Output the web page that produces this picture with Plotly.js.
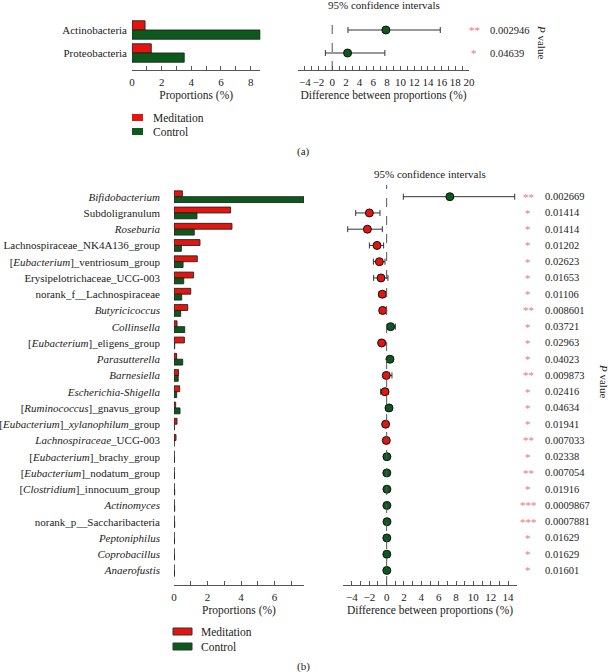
<!DOCTYPE html>
<html><head><meta charset="utf-8">
<script src="https://cdn.plot.ly/plotly-3.0.1.min.js"></script>
<style>html,body{margin:0;padding:0;background:#fff}#chart{width:610px;height:672px}</style>
</head><body><div id="chart"></div>
<script>
// ---------- Panel (a): phylum level ----------
const phylaLabels = ['Actinobacteria', 'Proteobacteria'];
const phylaMeditation = [0.88, 1.30];
const phylaControl = [8.65, 3.52];
const phylaDiff = [7.85, 2.25];
const phylaCILow = [2.3, -1.0];
const phylaCIHigh = [15.8, 7.7];
const phylaP = ['0.002946', '0.04639'];
const phylaStars = ['**', '*'];

// ---------- Panel (b): genus level ----------
const genusLabels = [
  '<i>Bifidobacterium</i>',
  'Subdoligranulum',
  '<i>Roseburia</i>',
  'Lachnospiraceae_NK4A136_group',
  '[<i>Eubacterium</i>]_ventriosum_group',
  'Erysipelotrichaceae_UCG-003',
  'norank_f__Lachnospiraceae',
  '<i>Butyricicoccus</i>',
  '<i>Collinsella</i>',
  '[<i>Eubacterium</i>]_eligens_group',
  '<i>Parasutterella</i>',
  '<i>Barnesiella</i>',
  '<i>Escherichia-Shigella</i>',
  '[<i>Ruminococcus</i>]_gnavus_group',
  '[<i>Eubacterium</i>]_<i>xylanophilum</i>_group',
  '<i>Lachnospiraceae</i>_UCG-003',
  '[<i>Eubacterium</i>]_brachy_group',
  '[<i>Eubacterium</i>]_nodatum_group',
  '[<i>Clostridium</i>]_innocuum_group',
  '<i>Actinomyces</i>',
  'norank_p__Saccharibacteria',
  '<i>Peptoniphilus</i>',
  '<i>Coprobacillus</i>',
  '<i>Anaerofustis</i>'
];
const genusMeditation = [0.50, 3.38, 3.46, 1.55, 1.39, 1.17, 1.00, 0.82, 0.18, 0.62, 0.16, 0.27, 0.34, 0.10, 0.18, 0.12, 0.01, 0.005, 0.01, 0.01, 0.01, 0.005, 0.005, 0.005];
const genusControl = [7.76, 1.37, 1.21, 0.44, 0.54, 0.58, 0.46, 0.40, 0.64, 0.04, 0.52, 0.25, 0.16, 0.36, 0.02, 0.01, 0.03, 0.03, 0.04, 0.04, 0.04, 0.03, 0.03, 0.03];
const genusDiff = [7.29, -1.99, -2.22, -1.11, -0.84, -0.65, -0.50, -0.46, 0.46, -0.58, 0.38, -0.04, -0.19, 0.27, -0.12, -0.04, 0.03, 0.02, 0.03, 0.03, 0.04, 0.02, 0.02, 0.02];
const genusCILow = [1.92, -3.57, -4.49, -1.99, -1.53, -1.50, -0.88, -0.77, 0.08, -0.92, 0.15, -0.38, -0.69, -0.08, -0.38, -0.30, 0.00, 0.00, 0.00, 0.00, 0.01, 0.00, 0.00, 0.00];
const genusCIHigh = [14.77, -0.77, -0.50, -0.35, -0.19, 0.15, -0.15, -0.19, 1.00, -0.19, 0.73, 0.61, 0.19, 0.61, 0.15, 0.20, 0.06, 0.05, 0.06, 0.06, 0.07, 0.05, 0.05, 0.05];
const genusP = ['0.002669','0.01414','0.01414','0.01202','0.02623','0.01653','0.01106','0.008601','0.03721','0.02963','0.04023','0.009873','0.02416','0.04634','0.01941','0.007033','0.02338','0.007054','0.01916','0.0009867','0.0007881','0.01629','0.01629','0.01601'];
const genusStars = ['**','*','*','*','*','*','*','**','*','*','*','**','*','*','*','**','*','**','*','***','***','*','*','*'];

const groupNames = ['Meditation', 'Control'];

// ---------- styling ----------
const W = 610, H = 672;
const px = x => x / W;
const py = y => 1 - y / H;
const RED = '#e5140f', GREEN = '#0b5a1c', STAR = '#f07272', AX = '#555';
const FONT = 'Liberation Serif, Times New Roman, serif';

const idx = arr => arr.map((_, i) => i);

function barTraces(vals1, vals2, xa, ya, w) {
  return [
    {type: 'bar', orientation: 'h', name: groupNames[0], y: idx(vals1), x: vals1, xaxis: xa, yaxis: ya,
     offset: -w, width: w, marker: {color: RED, line: {color: '#222', width: 0.9}}, showlegend: false, hoverinfo: 'x'},
    {type: 'bar', orientation: 'h', name: groupNames[1], y: idx(vals2), x: vals2, xaxis: xa, yaxis: ya,
     offset: 0, width: w, marker: {color: GREEN, line: {color: '#222', width: 0.9}}, showlegend: false, hoverinfo: 'x'}
  ];
}
function ciTrace(diff, lo, hi, xa, ya, size) {
  return {type: 'scatter', mode: 'markers', x: diff, y: idx(diff), xaxis: xa, yaxis: ya, showlegend: false,
    marker: {size: size, color: diff.map(d => d > 0 ? GREEN : RED), line: {color: '#111', width: 1}},
    error_x: {type: 'data', symmetric: false, array: hi.map((h, i) => h - diff[i]), arrayminus: diff.map((d, i) => d - lo[i]),
      color: '#333', thickness: 1, width: 3}};
}

const data = [
  ...barTraces(phylaMeditation, phylaControl, 'x', 'y', 0.4),
  ciTrace(phylaDiff, phylaCILow, phylaCIHigh, 'x2', 'y2', 8),
  ...barTraces(genusMeditation, genusControl, 'x3', 'y3', 0.36),
  ciTrace(genusDiff, genusCILow, genusCIHigh, 'x4', 'y4', 8)
];

function xAxis(d0, d1, range, anchor, title) {
  return {domain: [px(d0), px(d1)], range: range, anchor: anchor, showline: true, linecolor: AX, linewidth: 1,
    ticks: 'inside', ticklen: 4, tickcolor: AX, tickwidth: 1, dtick: 2, tick0: 0, tickangle: 0,
    minor: {dtick: 1, ticks: 'inside', ticklen: 4, tickcolor: AX, tickwidth: 1, showgrid: false},
    showgrid: false, zeroline: false, tickfont: {family: FONT, size: 11, color: '#222'}, ticklabelstandoff: 2,
    title: {text: title, font: {family: FONT, size: 11.5, color: '#222'}, standoff: 3}, fixedrange: true};
}
function yAxis(t0, t1, range, anchor, labels, standoff, fs) {
  return {domain: [py(t1), py(t0)], range: range, anchor: anchor, showline: false, ticks: '',
    tickvals: labels ? idx(labels) : [], ticktext: labels || [], showticklabels: !!labels,
    showgrid: false, zeroline: false, tickfont: {family: FONT, size: fs, color: '#222'}, ticklabelstandoff: standoff, fixedrange: true};
}

// row geometry
const aTop = 15, aBot = 70, aRow0 = 30, aStep = 23;
const bTop = 185, bBot = 585, bRow0 = 196.7, bStep = 16.25;
const aRange = [(aBot - aRow0) / aStep, (aTop - aRow0) / aStep];
const bRange = [(bBot - bRow0) / bStep, (bTop - bRow0) / bStep];

const annotations = [];
const txt = (text, x, y, opts) => annotations.push(Object.assign({text: text, x: x, y: y, xref: 'paper', yref: 'paper',
  showarrow: false, font: {family: FONT, size: 11, color: '#222'}, xanchor: 'center', yanchor: 'middle'}, opts || {}));

txt('95% confidence intervals', px(384), py(5));
txt('95% confidence intervals', px(430), py(174));
txt('<i>P</i> value', px(542), py(42), {textangle: 90});
txt('<i>P</i> value', px(604), py(381), {textangle: 90});
phylaP.forEach((p, i) => {
  txt(phylaStars[i], px(474), i, {yref: 'y2', font: {family: FONT, size: 11, color: STAR}});
  txt(p, px(488), i, {yref: 'y2', xanchor: 'left', font: {family: FONT, size: 10.5, color: '#222'}});
});
genusP.forEach((p, i) => {
  txt(genusStars[i], px(528), i, {yref: 'y4', font: {family: FONT, size: 11, color: STAR}});
  txt(p, px(543), i, {yref: 'y4', xanchor: 'left', font: {family: FONT, size: 10.5, color: '#222'}});
});
// legends
const legFont = {family: FONT, size: 11.5, color: '#222'};
txt(groupNames[0], px(151), py(117.5), {xanchor: 'left', font: legFont});
txt(groupNames[1], px(151), py(131.5), {xanchor: 'left', font: legFont});
txt(groupNames[0], px(199), py(631.5), {xanchor: 'left', font: legFont});
txt(groupNames[1], px(199), py(646.5), {xanchor: 'left', font: legFont});
txt('(a)', px(303), py(152));
txt('(b)', px(303), py(666));

const rect = (x0, y0, x1, y1, c, border) => ({type: 'rect', xref: 'paper', yref: 'paper', x0: px(x0), x1: px(x1), y0: py(y0), y1: py(y1),
  fillcolor: c, line: {color: border ? '#333' : c, width: border ? 1 : 0}});
const shapes = [
  rect(132, 114, 143, 121, RED, false),
  rect(132, 128, 143, 135, GREEN, false),
  rect(173, 628, 192, 635, RED, true),
  rect(173, 643, 192, 650, GREEN, true),
  {type: 'line', xref: 'x2', yref: 'y2 domain', x0: 0, x1: 0, y0: 0, y1: 0.95, line: {color: AX, width: 1, dash: 'dash'}},
  {type: 'line', xref: 'x4', yref: 'y4 domain', x0: 0, x1: 0, y0: 0, y1: 1, line: {color: AX, width: 1, dash: 'dash'}}
];

const layout = {
  width: W, height: H, autosize: false, margin: {l: 0, r: 0, t: 0, b: 0},
  paper_bgcolor: '#fff', plot_bgcolor: 'rgba(0,0,0,0)', barmode: 'overlay', showlegend: false,
  font: {family: FONT, color: '#222'},
  xaxis: xAxis(132, 260.3, [0, 8.65], 'y', 'Proportions (%)'),
  yaxis: yAxis(aTop, aBot, aRange, 'x', phylaLabels, 4, 11),
  xaxis2: xAxis(298, 469, [-5, 20], 'y2', 'Difference between proportions (%)'),
  yaxis2: yAxis(aTop, aBot, aRange, 'x2', null, 0, 11),
  xaxis3: xAxis(174, 304, [0, 7.76], 'y3', 'Proportions (%)'),
  yaxis3: yAxis(bTop, bBot, bRange, 'x3', genusLabels, 13, 11),
  xaxis4: xAxis(343.3, 516.7, [-5, 15], 'y4', 'Difference between proportions (%)'),
  yaxis4: yAxis(bTop, bBot, bRange, 'x4', null, 0, 11),
  annotations: annotations, shapes: shapes
};

Plotly.newPlot('chart', data, layout, {displayModeBar: false, staticPlot: true});
</script>
</body></html>
